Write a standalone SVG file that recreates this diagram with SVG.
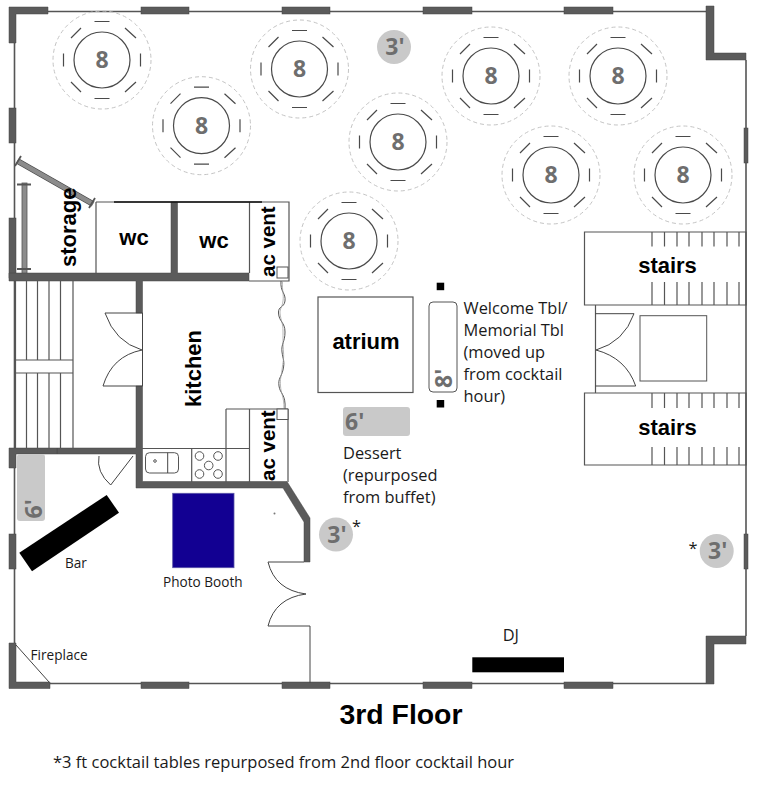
<svg xmlns="http://www.w3.org/2000/svg" width="768" height="788" viewBox="0 0 768 788">
<style>
.w{fill:#5b5b5b;stroke:#444;stroke-width:.5}
.l{fill:none;stroke:#555;stroke-width:1.2}
.k{fill:none;stroke:#444;stroke-width:1}
.o{fill:none;stroke:#555;stroke-width:1.6}
.lab{font-family:"Liberation Sans",Arial,sans-serif;font-weight:700;font-size:22px;fill:#000}
.cap{font-family:"Open Sans",sans-serif;font-size:16.400px;fill:#1a1a1a}
.sm{font-size:13.600px}
.num{font-family:"Open Sans",sans-serif;font-weight:700;font-size:23px;fill:#6e6e6e}
.gt{fill:#c9c9c9}
.dash{fill:none;stroke:#c4c4c4;stroke-width:1;stroke-dasharray:4 3}
.seat{fill:none;stroke:#4a4a4a;stroke-width:1.200}
.mid{text-anchor:middle}
</style>
<defs>
<g id="seats">
<circle class="dash" r="49"/>
<circle class="seat" r="28"/>
<path class="seat" d="M-7.500-38.500H7.500M-7.500 38.500H7.500M-38.500-6.500V6.500M38.500-6.500V6.500M-31-22L-21-32M23-32L34-22M-31 22L-21 32M23 32L34 22"/>
</g>
</defs>
<rect width="768" height="788" fill="#fff"/>
<g id="walls">
<path class="o" d="M14.500 43V685M48 11.500H706M746 60V636M50 683.500H706"/>
<path class="w" d="M9 7H48V14H16V43H9Z"/>
<rect class="w" x="141" y="7" width="48" height="7"/>
<rect class="w" x="282" y="7" width="48" height="7"/>
<rect class="w" x="423" y="7" width="49" height="7"/>
<rect class="w" x="564" y="7" width="49" height="7"/>
<path class="w" d="M706 6H714V53H746V60H706Z"/>
<rect class="w" x="744" y="128" width="4" height="35"/>
<rect class="w" x="744" y="534" width="4" height="35"/>
<path class="w" d="M706 636H746V644H714V684H706Z"/>
<rect class="w" x="564" y="682" width="49" height="6.500"/>
<rect class="w" x="423" y="682" width="49" height="6.500"/>
<rect class="w" x="282" y="682" width="48" height="6.500"/>
<rect class="w" x="141" y="682" width="48" height="6.500"/>
<path class="w" d="M9 643H16V682H50V688.500H9Z"/>
<rect class="w" x="9" y="108" width="7" height="35"/>
<rect class="w" x="9" y="218" width="7" height="60"/>
<rect class="w" x="9" y="534" width="7" height="35"/>
<path class="w" d="M9 273H171V202H177.500V273H249V281H142.500V313H136V281H9Z"/>
<path class="w" d="M136 386H142.500V481.500H287L310 518V562H304V522L283 488H136V454H57V448H136Z"/>
<path class="w" d="M9 448H57V454H16V468H9Z"/>
</g>
<g id="connectors">
<path class="l" d="M96 202H289V281H249M96 202V273M249.500 202V273"/>
<path d="M114 202H262" stroke="#111" stroke-width="1.500" fill="none"/>
<path d="M17.500 161L93 204" stroke="#444" stroke-width="6" fill="none"/>
<path d="M17.500 161L93 204" stroke="#8c8c8c" stroke-width="4.500" fill="none"/>
<path d="M21 156L15 166M95 198L89 208" stroke="#555" stroke-width="1.800" fill="none"/>
<rect x="22" y="183" width="5" height="90" fill="#8c8c8c" stroke="#555" stroke-width=".8"/>
<path d="M17 184.500H31M17 269H31" stroke="#555" stroke-width="1.800" fill="none"/>
<path class="l" d="M15.500 281V448M26.500 281V360M37.500 281V360M49 281V360M60.500 281V360M26.500 373V448M37.500 373V448M49 373V448M60.500 373V448M73 281V448M15.500 360H73M15.500 373H73"/>
<path class="k" d="M142.500 313H105Q115 342 142 350Q112 356 103 386H142.500M142.500 313V386"/>
<path class="k" d="M99 456Q96 472 110.700 485L133 456"/>
<path class="l" d="M142 448.500H249M191.700 448.500V482M226 409V482M249.500 409V482M288 409V482M226 409H288"/>
<path class="k" d="M16 645L49 682M268 626H310V683M268 626Q275 598 306 594Q275 590 268 562H304"/>
<path d="M281 281C280 292 286 293 285 301C284 308 278 306 278.500 313C279 322 285 322 285 332C285 342 281 344 282 352C283 360 285 361 283 370C281 378 278 378 279 386C280 394 286 394 285 409" fill="none" stroke="#555" stroke-width="1"/>
<path d="M282.500 281C282 292 284 294 283 301C282 308 280 308 280 313C281 322 283 322 283 332C283 342 283 344 283.500 352C284 360 283 361 282 370C281 378 280 378 280.500 386C281 394 284 396 284 409" fill="none" stroke="#999" stroke-width=".7"/>
<path class="l" d="M584.500 232H746V305H584.500ZM584.500 393H746V465H584.500ZM595.500 305V393M652 232V246.500M664.500 232V246.500M677 232V246.500M689 232V246.500M702 232V246.500M714 232V246.500M727 232V246.500M739 232V246.500M652 282V305M664.500 282V305M677 282V305M689 282V305M702 282V305M714 282V305M727 282V305M739 282V305M652 393V408M664.500 393V408M677 393V408M689 393V408M702 393V408M714 393V408M727 393V408M739 393V408M652 447V465M664.500 447V465M677 447V465M689 447V465M702 447V465M714 447V465M727 447V465M739 447V465"/>
<path class="k" d="M595.500 313.700H634Q624 342 596 350Q626 358 635.700 386H595.500"/>
</g>
<g id="table-1" transform="translate(102 60)"><use href="#seats"/><text class="num mid" y="8">8</text></g>
<g id="table-2" transform="translate(201.500 125.700)"><use href="#seats"/><text class="num mid" y="8">8</text></g>
<g id="table-3" transform="translate(299.500 69)"><use href="#seats"/><text class="num mid" y="8">8</text></g>
<g id="table-4" transform="translate(398 142)"><use href="#seats"/><text class="num mid" y="8">8</text></g>
<g id="table-5" transform="translate(349 241)"><use href="#seats"/><text class="num mid" y="8">8</text></g>
<g id="table-6" transform="translate(491 76)"><use href="#seats"/><text class="num mid" y="8">8</text></g>
<g id="table-7" transform="translate(618 76)"><use href="#seats"/><text class="num mid" y="8">8</text></g>
<g id="table-8" transform="translate(551 175)"><use href="#seats"/><text class="num mid" y="8">8</text></g>
<g id="table-9" transform="translate(683 175)"><use href="#seats"/><text class="num mid" y="8">8</text></g>
<g id="cocktail-1"><circle class="gt" cx="394" cy="47" r="17"/><text class="num mid" x="395" y="55">3'</text></g>
<g id="cocktail-2"><circle class="gt" cx="336" cy="534.500" r="17"/><text class="num mid" x="337" y="542.500">3'</text><text class="cap" x="352" y="532">*</text></g>
<g id="cocktail-3"><circle class="gt" cx="716.700" cy="551" r="17"/><text class="num mid" x="717.700" y="559">3'</text><text class="cap" x="688.500" y="554">*</text></g>
<g id="table-6ft-left"><rect class="gt" x="17" y="454" width="28" height="67" rx="3"/><text class="num" transform="translate(41.500 518.500) rotate(-90)">6'</text></g>
<g id="dessert"><rect class="gt" x="343" y="407" width="67" height="29" rx="3"/><text class="num" x="345" y="430">6'</text>
<text class="cap"><tspan x="343" y="459">Dessert</tspan><tspan x="343" y="481">(repurposed</tspan><tspan x="343" y="503">from buffet)</tspan></text></g>
<g id="welcome"><rect x="429" y="302" width="28" height="90" rx="4" fill="#fff" stroke="#555" stroke-width="1"/><text class="num" transform="translate(451.500 388) rotate(-90)">8'</text>
<rect x="436.700" y="282.700" width="7.500" height="7.500" fill="#000"/><rect x="436.700" y="400" width="7.500" height="7.500" fill="#000"/>
<text class="cap"><tspan x="463.500" y="314">Welcome Tbl/</tspan><tspan x="463.500" y="336">Memorial Tbl</tspan><tspan x="463.500" y="358">(moved up</tspan><tspan x="463.500" y="380">from cocktail</tspan><tspan x="463.500" y="402">hour)</tspan></text></g>
<g id="atrium"><rect x="318" y="297" width="95" height="95.500" fill="#fff" stroke="#555" stroke-width="1.200"/><text class="lab mid" x="366" y="349">atrium</text></g>
<g id="stairs-top"><text class="lab mid" x="667.500" y="273">stairs</text></g>
<g id="stairs-bottom"><text class="lab mid" x="667.500" y="435">stairs</text></g>
<g id="lobby-box"><rect x="640" y="315.700" width="66.700" height="65.300" fill="#fff" stroke="#555" stroke-width="1"/></g>
<g id="storage"><text class="lab" transform="translate(76 267) rotate(-90)">storage</text></g>
<g id="wc-1"><text class="lab mid" x="134" y="245">wc</text></g>
<g id="wc-2"><text class="lab mid" x="214" y="248">wc</text></g>
<g id="ac-vent-1"><text class="lab" style="font-size:20.500px" transform="translate(275 277) rotate(-90)">ac vent</text><rect x="277" y="267" width="11" height="11" fill="#fff" stroke="#555"/></g>
<g id="ac-vent-2"><text class="lab" style="font-size:20.500px" transform="translate(275 481) rotate(-90)">ac vent</text><rect x="277" y="409" width="11" height="10.500" fill="#fff" stroke="#555"/></g>
<g id="kitchen"><text class="lab" transform="translate(201 407) rotate(-90)">kitchen</text></g>
<g id="sink"><rect x="145.500" y="452.700" width="33" height="20.300" rx="4" fill="#fff" stroke="#555"/><path class="k" d="M167.700 452.700V473"/><circle cx="155" cy="461" r="1.300" fill="none" stroke="#555"/></g>
<g id="stove" fill="#fff" stroke="#555" stroke-width="1"><circle cx="199.500" cy="456" r="4.300"/><circle cx="218" cy="456" r="4.300"/><circle cx="208.700" cy="465.500" r="4.300"/><circle cx="199.500" cy="474" r="4.300"/><circle cx="218" cy="474" r="4.300"/></g>
<g id="bar"><path d="M106.700 495L119 512.700L32 571.300L19.300 552.700Z" fill="#000"/><text class="cap sm" x="65" y="568">Bar</text></g>
<g id="photo-booth"><rect x="172.700" y="493.300" width="61.300" height="74.400" fill="#120092" stroke="#5a55a8" stroke-width=".8"/><text class="cap sm" x="163" y="587">Photo Booth</text></g>
<g id="fireplace"><text class="cap sm" x="30.500" y="660">Fireplace</text></g>
<g id="dj"><rect x="472.300" y="657.300" width="91.700" height="15" fill="#000"/><text class="cap" x="502.700" y="640.700">DJ</text></g>
<circle cx="274.500" cy="513.500" r="1" fill="#777"/>
<text id="title" class="lab mid" style="font-size:28.400px" x="401" y="724">3rd Floor</text>
<text id="note" class="cap" style="font-size:16.500px" x="53" y="768">*3 ft cocktail tables repurposed from 2nd floor cocktail hour</text>
</svg>
